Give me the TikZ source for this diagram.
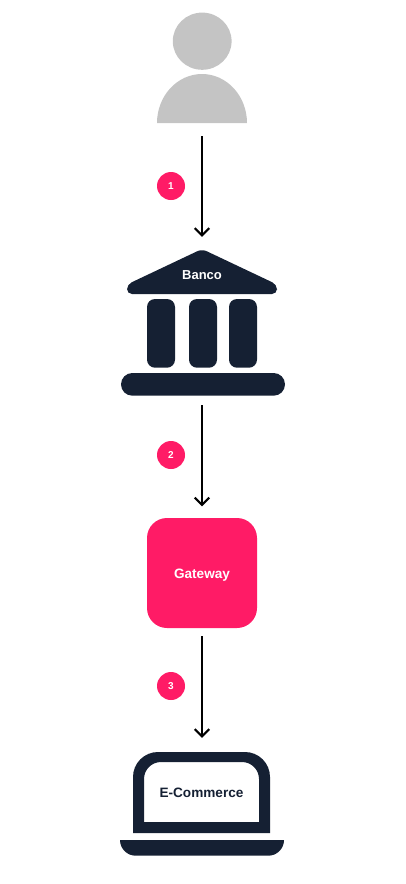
\documentclass[tikz,border=0pt]{standalone}
\usepackage{fontspec}
\setmainfont{Liberation Sans}
\definecolor{navy}{HTML}{152033}
\definecolor{hotpink}{HTML}{FF1B66}
\definecolor{usergray}{HTML}{C4C4C4}
\pgfarrowsdeclare{openvee}{openvee}
  {\pgfarrowsleftextend{-7.5pt}\pgfarrowsrightextend{1.4pt}}
  {\pgfsetmiterjoin\pgfsetbuttcap\pgfsetdash{}{0pt}
   \pgfpathmoveto{\pgfpoint{-7.3pt}{7.3pt}}
   \pgfpathlineto{\pgfpointorigin}
   \pgfpathlineto{\pgfpoint{-7.3pt}{-7.3pt}}
   \pgfusepathqstroke}
\tikzset{
  flow/.style={draw=black,line width=2pt,-openvee},
  badge/.style={circle,fill=hotpink,text=white,minimum size=28pt,inner sep=0pt,font=\bfseries\fontsize{10}{10}\selectfont},
  lbl/.style={inner sep=0pt,anchor=base,font=\bfseries\fontsize{13.6}{13.6}\selectfont},
  solidnavy/.style={fill=navy,draw=none},
}
\begin{document}
\begin{tikzpicture}[x=1pt,y=-1pt]
\useasboundingbox (0,0) rectangle (405,884);
% user
\fill[usergray] (202.2,41.2) ellipse [x radius=29.4pt,y radius=28.6pt];
\fill[usergray] (157,123) arc [start angle=180,end angle=0,x radius=45pt,y radius=49pt] -- cycle;
\node[inner sep=0pt,minimum width=90pt,minimum height=110pt] (user) at (202,68) {};
% bank
\fill[solidnavy,rounded corners=5pt] (127,294) -- (127,284.5) -- (202,249) -- (277,284.5) -- (277,294) -- cycle;
\fill[solidnavy,rounded corners=8pt] (147,299) rectangle (175,367.7);
\fill[solidnavy,rounded corners=8pt] (189,299) rectangle (217,367.7);
\fill[solidnavy,rounded corners=8pt] (229,299) rectangle (257,367.7);
\fill[solidnavy,rounded corners=11.3pt] (121,373) rectangle (285,395.7);
\node[inner sep=0pt,minimum width=164pt,minimum height=146.5pt] (bank) at (202,322.7) {};
\node[lbl,text=white,font=\bfseries\fontsize{13}{13}\selectfont] (banklabel) at (202,279) {Banco};
% gateway
\node[fill=hotpink,rounded corners=20pt,minimum size=110pt,inner sep=0pt] (gateway) at (202,573) {};
\node[lbl,text=white] (gatewaylabel) at (202,578) {Gateway};
% laptop
\fill[solidnavy,even odd rule]
  (133,833) -- (133,777) arc [start angle=180,end angle=90,radius=25pt] -- (245,752) arc [start angle=90,end angle=0,radius=25pt] -- (270,833) -- cycle
  (144,822) -- (144,779) arc [start angle=180,end angle=90,radius=17pt] -- (242,762) arc [start angle=90,end angle=0,radius=17pt] -- (259,822) -- cycle;
\fill[solidnavy] (120,840) -- (284,840) arc [start angle=0,end angle=-90,radius=15.7pt] -- (135.7,855.7) arc [start angle=-90,end angle=-180,radius=15.7pt] -- cycle;
\node[inner sep=0pt,minimum width=164pt,minimum height=104pt] (laptop) at (202,804) {};
\node[lbl,text=navy] (laptoplabel) at (201.5,797) {E-Commerce};
% connectors
\draw[flow,shorten <=13pt,shorten >=12.5pt] (user.south) -- (bank.north);
\draw[flow,shorten <=9pt,shorten >=11.5pt] (bank.south) -- (gateway.north);
\draw[flow,shorten <=8pt,shorten >=14pt] (gateway.south) -- (laptop.north);
% badges
\node[badge] (b1) at (171,186) {1};
\node[badge] (b2) at (171,455) {2};
\node[badge] (b3) at (171,686) {3};
\end{tikzpicture}
\end{document}
